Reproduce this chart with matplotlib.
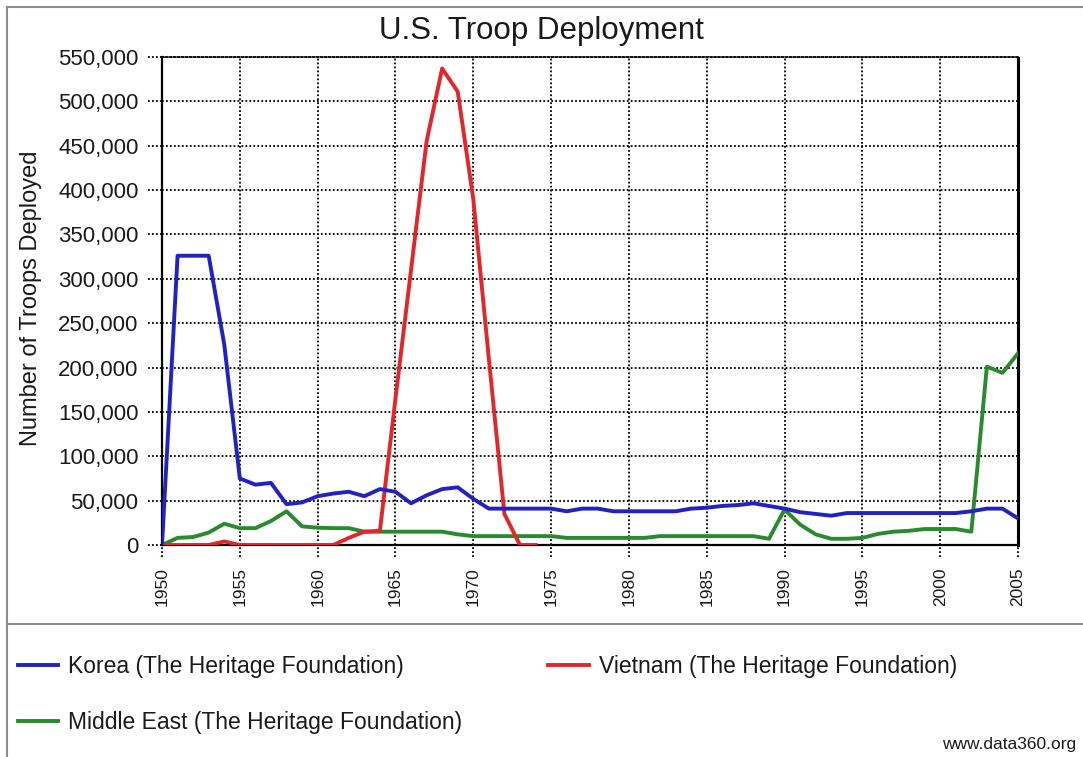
import matplotlib
matplotlib.use('Agg')
import matplotlib.pyplot as plt
from matplotlib.lines import Line2D
from matplotlib.ticker import FuncFormatter, FixedLocator

# ---------------- data ----------------
years = list(range(1950, 2006))

korea = [0, 326000, 326000, 326000, 226000, 75000, 68000, 70000, 46000, 48000,
         55000, 58000, 60000, 55000, 63000, 60000, 47000, 56000, 63000, 65000,
         52000, 41000, 41000, 41000, 41000, 41000, 38000, 41000, 41000, 38000,
         38000, 38000, 38000, 38000, 41000, 42000, 44000, 45000, 47000, 44000,
         41000, 37000, 35000, 33000, 36000, 36000, 36000, 36000, 36000, 36000,
         36000, 36000, 38000, 41000, 41000, 30000]

vietnam_years = list(range(1950, 1975))
vietnam = [0, 0, 0, 0, 4000, 0, 0, 0, 0, 0,
           0, 0, 8000, 15000, 16000, 165000, 310000, 455000, 537000, 511000,
           390000, 210000, 35000, 0, 0]

middle_east = [0, 8000, 9000, 14000, 24000, 19000, 19000, 27000, 38000, 21000,
               19500, 19000, 19000, 15000, 15000, 15000, 15000, 15000, 15000, 12000,
               10000, 10000, 10000, 10000, 10000, 10000, 8000, 8000, 8000, 8000,
               8000, 8000, 10000, 10000, 10000, 10000, 10000, 10000, 10000, 7000,
               40000, 23000, 12000, 7000, 7000, 8000, 12500, 15000, 16000, 18000,
               18000, 18000, 15000, 201000, 194000, 216000]

series_names = ["Korea (The Heritage Foundation)",
                "Vietnam (The Heritage Foundation)",
                "Middle East (The Heritage Foundation)"]
series_colors = ["#2222c4", "#e2262a", "#2a8a2e"]

title = "U.S. Troop Deployment"
y_label = "Number of Troops Deployed"
x_ticks = list(range(1950, 2006, 5))
y_ticks = list(range(0, 550001, 50000))
source_text = "www.data360.org"

# ---------------- figure ----------------
plt.rcParams['font.family'] = ['Liberation Sans', 'DejaVu Sans']
W, H = 1083, 757
fig = plt.figure(figsize=(W / 100, H / 100), dpi=100)
fig.patch.set_facecolor('white')

L, R, T, B = 162, 1018, 57, 545
ax = fig.add_axes([L / W, 1 - B / H, (R - L) / W, (B - T) / H])

lk, = ax.plot(years, korea, color=series_colors[0], lw=2.8, solid_joinstyle='round', zorder=5)
lv, = ax.plot(vietnam_years, vietnam, color=series_colors[1], lw=2.8, solid_joinstyle='round', zorder=4)
lm, = ax.plot(years, middle_east, color=series_colors[2], lw=2.8, solid_joinstyle='round', zorder=3)

ax.set_xlim(1950, 2005)
ax.set_ylim(0, 550000)
ax.xaxis.set_major_locator(FixedLocator(x_ticks))
ax.yaxis.set_major_locator(FixedLocator(y_ticks))
ax.yaxis.set_major_formatter(FuncFormatter(lambda v, p: f"{int(v):,}"))

dot = (0, (1.0, 1.2))
ax.grid(True, color='black', linestyle=dot, linewidth=1.3, zorder=1)
ax.set_axisbelow(True)

for s in ['left', 'bottom']:
    ax.spines[s].set_linewidth(1.6)
    ax.spines[s].set_color('black')
ax.spines['right'].set_linewidth(2.2)
ax.spines['right'].set_color('black')
ax.spines['right'].set_linestyle((0, (1.0, 0.6)))
ax.spines['top'].set_linestyle(dot)
ax.spines['top'].set_linewidth(1.3)

ax.tick_params(axis='both', length=0)
ax.tick_params(axis='y', pad=17, labelsize=16, labelcolor='#1a1a1a')
ax.tick_params(axis='x', pad=16, labelsize=12.5, labelcolor='#1a1a1a', labelrotation=90)

# dotted tick extensions outside the plot
for yv in y_ticks:
    ax.plot([-14 / (R - L), 0], [yv, yv], transform=ax.get_yaxis_transform(),
            color='black', linestyle=dot, lw=1.3, clip_on=False, zorder=1)
for xv in x_ticks:
    ax.plot([xv, xv], [-12 / (B - T), 0], transform=ax.get_xaxis_transform(),
            color='black', linestyle=dot, lw=1.3, clip_on=False, zorder=1)

# texts
fig.text(541 / W, 1 - 31 / H, title, ha='center', va='center', fontsize=22.5, color='#1a1a1a')
fig.text(31 / W, 1 - 298 / H, y_label, ha='center', va='center', rotation=90,
         fontsize=17, color='#1a1a1a')
fig.text(1076 / W, 1 - 745 / H, source_text, ha='right', va='center', fontsize=12.5, color='#1a1a1a')

# frame lines
gray = '#8c8c8c'
fig.add_artist(Line2D([7 / W, 1], [1 - 7 / H, 1 - 7 / H], color=gray, lw=1.5))
fig.add_artist(Line2D([7 / W, 7 / W], [0, 1 - 7 / H], color=gray, lw=1.5))
fig.add_artist(Line2D([7 / W, 1], [1 - 624 / H, 1 - 624 / H], color=gray, lw=1.5))

# legend
fig.legend([lk, lm, lv], [series_names[0], series_names[2], series_names[1]],
           ncol=2, loc='upper left', bbox_to_anchor=(18 / W, 1 - 655 / H),
           frameon=False, fontsize=16.5, handlelength=1.75, handletextpad=0.45,
           columnspacing=3.75, labelspacing=1.45, borderpad=0, borderaxespad=0,
           labelcolor='#1a1a1a')

fig.savefig('out.png', dpi=100, facecolor='white')
